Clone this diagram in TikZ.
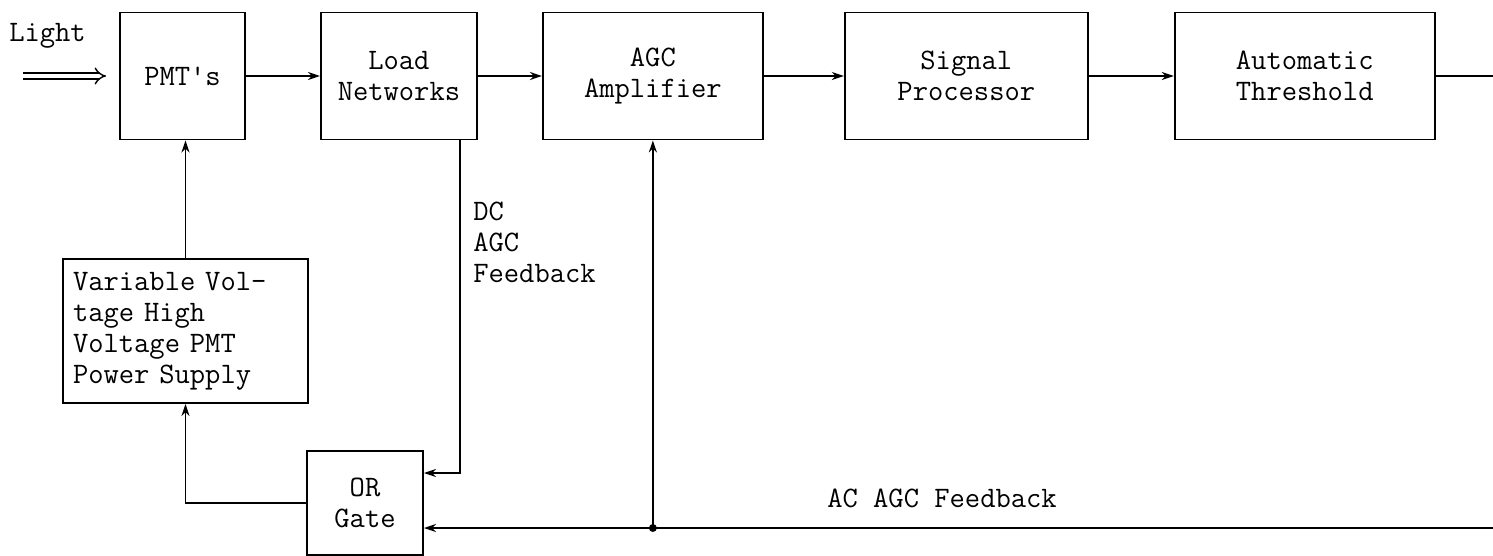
\documentclass[tikz,border=0pt]{standalone}
\usetikzlibrary{arrows.meta,positioning}

\begin{document}
\begin{tikzpicture}[
  font=\fontsize{16.9pt}{17.6pt}\selectfont\ttfamily,
  blk/.style={draw, line width=1.1pt, align=center, minimum height=2.54cm, inner sep=0pt},
  sig/.style={-{Stealth[length=2.4mm,width=1.6mm]}, line width=1.1pt},
  wire/.style={line width=1.1pt},
  lab/.style={inner sep=0pt, align=left},
  lightin/.style={double, double distance=0.09cm, line width=0.8pt, -{Implies}}]
\useasboundingbox (0,0) rectangle (29.86,-11.12);
% signal chain
\node[blk, minimum width=2.5cm] (pmt) at (3.65,-1.52) {PMT's};
\node[blk, minimum width=3.12cm, right=1.48cm of pmt] (load) {Load\\Networks};
\node[blk, minimum width=4.4cm, right=1.28cm of load] (agc) {AGC\\Amplifier};
\node[blk, minimum width=4.86cm, right=1.6cm of agc] (sp) {Signal\\Processor};
\node[blk, minimum width=5.2cm, right=1.7cm of sp] (at) {Automatic\\Threshold};
\draw[sig] (pmt) -- (load);
\draw[sig] (load) -- (agc);
\draw[sig] (agc) -- (sp);
\draw[sig] (sp) -- (at);
\coordinate (acin) at (29.86,-10.56);
\coordinate (outp) at (at.east -| acin);
\draw[wire] (at) -- (outp);
% light input
\node[lab] (light) at (0.95,-0.72) {Light};
\coordinate (src) at (0.46,-1.52);
\draw[lightin, shorten >=0.26cm] (src) -- (pmt);
% feedback loop
\node[blk, minimum width=4.9cm, minimum height=2.88cm, text width=4.5cm, align=left] (vv) at (3.71,-6.62) {Variable Vol-\\tage High\\Voltage PMT\\Power Supply};
\node[blk, minimum width=2.32cm, minimum height=2.08cm] (orgate) at (7.3,-10.06) {OR\\Gate};
\draw[sig] (vv.north) -- (vv.north |- pmt.south);
\draw[sig] (orgate.west) -| (vv.south);
\draw[sig] ([xshift=-0.36cm]load.south east) |- ([yshift=0.6cm]orgate.east);
\node[lab, anchor=north west] (dclab) at (9.46,-4.04) {DC\\AGC\\Feedback};
\draw[sig] (acin) -- ([yshift=-0.5cm]orgate.east);
\coordinate (jn) at (agc.south |- acin);
\draw[sig] (jn) -- (agc.south);
\fill (jn) circle (0.08cm);
\node[lab] (aclab) at (18.84,-9.96) {AC AGC Feedback};
\end{tikzpicture}
\end{document}
